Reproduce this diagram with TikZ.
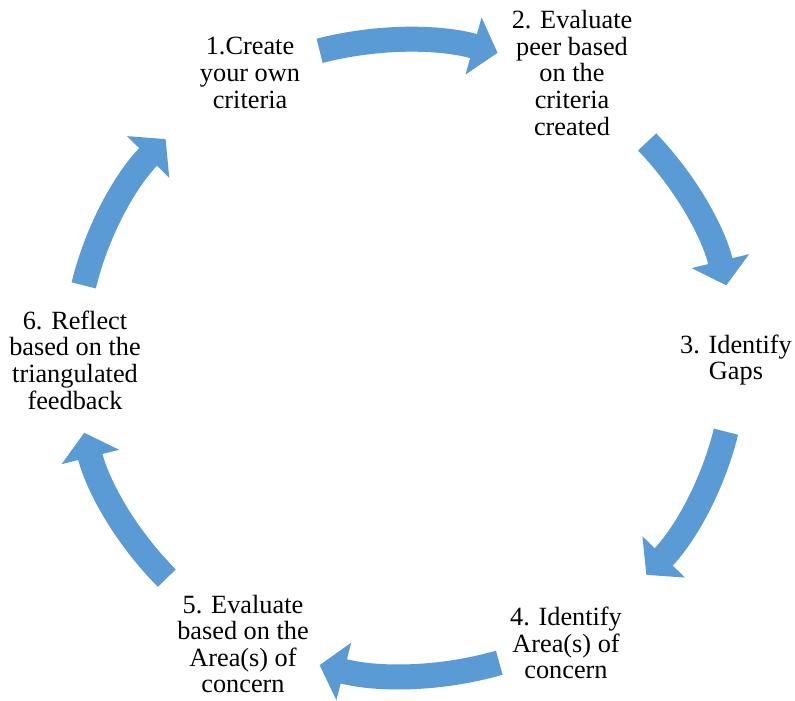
\documentclass[tikz,border=0pt]{standalone}
\usepackage{fontspec}
\setmainfont{Liberation Serif}
\usetikzlibrary{arrows.meta,positioning}
\definecolor{cycleblue}{HTML}{5B9BD5}

\begin{document}
\begin{tikzpicture}[x=1bp,y=1bp,thin]
\tikzstyle{every node}=[align=center,text=black,inner sep=0pt,font=\fontsize{26.4}{26.7}\selectfont]
\tikzstyle{cyc}=[draw=cycleblue,line width=25bp,-{Triangle[length=25bp,width=58bp]}]

\useasboundingbox (-405,-343) rectangle (390,358);

\node (A) at (-155,285)  {1.Create\\your own\\criteria};
\node (B) at (167,285)   {2. Evaluate\\peer based\\on the\\criteria\\created};
\node (C) at (331,-2)    {3. Identify\\Gaps};
\node (D) at (161,-285)  {4. Identify\\Area(s) of\\concern};
\node (E) at (-162,-286) {5. Evaluate\\based on the\\Area(s) of\\concern};
\node (F) at (-330,-2)   {6. Reflect\\based on the\\triangulated\\feedback};

%\coordinate (O) at (0,0);
\draw[cyc] (105:330 and 318)    arc[start angle=105,end angle=73.7,x radius=330,y radius=318];
\draw[cyc] (42.8:330 and 318)   arc[start angle=42.8,end angle=13.2,x radius=330,y radius=318];
\draw[cyc] (-13.4:330 and 318)  arc[start angle=-13.4,end angle=-43,x radius=330,y radius=318];
\draw[cyc] (-73.4:330 and 318)  arc[start angle=-73.4,end angle=-105,x radius=330,y radius=318];
\draw[cyc] (-136.2:330 and 318) arc[start angle=-136.2,end angle=-166.4,x radius=330,y radius=318];
\draw[cyc] (166.8:330 and 318)  arc[start angle=166.8,end angle=136.5,x radius=330,y radius=318];

\end{tikzpicture}
\end{document}
